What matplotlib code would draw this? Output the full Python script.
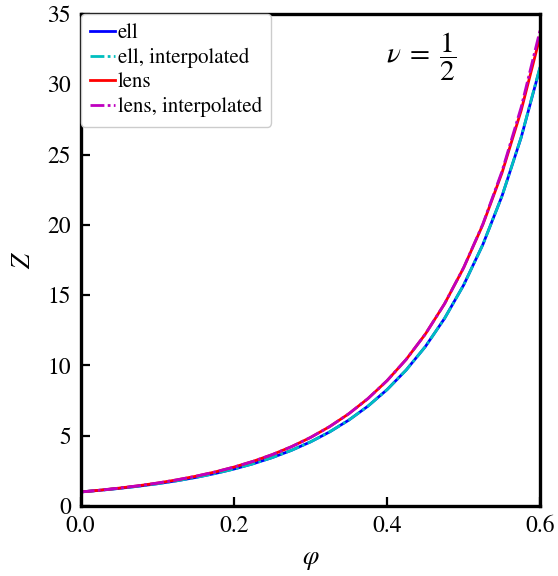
import matplotlib
matplotlib.use("Agg")
import matplotlib.pyplot as plt

# volume fraction
phi = [0.0, 0.025, 0.05, 0.075, 0.1, 0.125, 0.15, 0.175, 0.2, 0.225, 0.25,
       0.275, 0.3, 0.325, 0.35, 0.375, 0.4, 0.425, 0.45, 0.475, 0.5, 0.525,
       0.55, 0.575, 0.6]

# compressibility factor
z_ell = [1.0, 1.117, 1.252, 1.407, 1.585, 1.791, 2.030, 2.307, 2.629, 3.004,
         3.443, 3.957, 4.560, 5.271, 6.110, 7.102, 8.278, 9.677, 11.34,
         13.34, 15.72, 18.59, 22.04, 26.20, 31.24]
z_ell_interp = [1.0, 1.117, 1.252, 1.407, 1.585, 1.791, 2.030, 2.307, 2.629,
                3.004, 3.443, 3.957, 4.560, 5.271, 6.110, 7.102, 8.278, 9.677,
                11.34, 13.34, 15.72, 18.59, 22.04, 26.22, 31.30]
z_lens = [1.0, 1.126, 1.272, 1.439, 1.632, 1.856, 2.115, 2.417, 2.768, 3.177,
          3.656, 4.216, 4.874, 5.649, 6.562, 7.640, 8.917, 10.43, 12.23,
          14.38, 16.95, 20.01, 23.69, 28.12, 33.45]
z_lens_interp = [1.0, 1.126, 1.272, 1.439, 1.632, 1.856, 2.115, 2.417, 2.768,
                 3.177, 3.656, 4.216, 4.874, 5.649, 6.562, 7.640, 8.917, 10.43,
                 12.23, 14.38, 16.96, 20.05, 23.80, 28.35, 33.90]

plt.rcParams["font.family"] = "serif"
plt.rcParams["font.serif"] = ["STIXGeneral", "Liberation Serif", "DejaVu Serif"]
plt.rcParams["mathtext.fontset"] = "stix"

fig = plt.figure(figsize=(5.58, 5.76), dpi=100)
ax = fig.add_axes([0.1446, 0.1215, 0.8236, 0.8542])

ax.plot(phi, z_ell, color="blue", lw=2.0, label="ell")
ax.plot(phi, z_ell_interp, color="c", lw=2.0, ls=(0, (5, 1.2, 1, 1.2)),
        label="ell, interpolated")
ax.plot(phi, z_lens, color="red", lw=2.0, label="lens")
ax.plot(phi, z_lens_interp, color="m", lw=2.0, ls=(0, (5, 1.2, 1, 1.2)),
        label="lens, interpolated")

ax.set_xlim(0, 0.6)
ax.set_ylim(0, 35)
ax.set_xticks([0.0, 0.2, 0.4, 0.6])
ax.set_yticks(range(0, 36, 5))
ax.set_xticklabels(["0.0", "0.2", "0.4", "0.6"])

for s in ax.spines.values():
    s.set_linewidth(2.4)
ax.tick_params(direction="in", length=6.5, width=1.6, labelsize=17, pad=7,
               top=False, right=False)

ax.set_xlabel(r"$\varphi$", fontsize=19, labelpad=8)
ax.set_ylabel(r"$Z$", fontsize=19, labelpad=8)

ax.text(0.74, 0.913, r"$\nu\;=\;\dfrac{1}{2}$", transform=ax.transAxes,
        fontsize=21, ha="center", va="center")

leg = ax.legend(loc="upper left", fontsize=15, handlelength=1.2,
                handletextpad=0.12, borderpad=0.45, labelspacing=0.22,
                borderaxespad=0.0, fancybox=True, framealpha=1)
leg.get_frame().set_edgecolor("#cccccc")

fig.savefig("out.png", dpi=100)
